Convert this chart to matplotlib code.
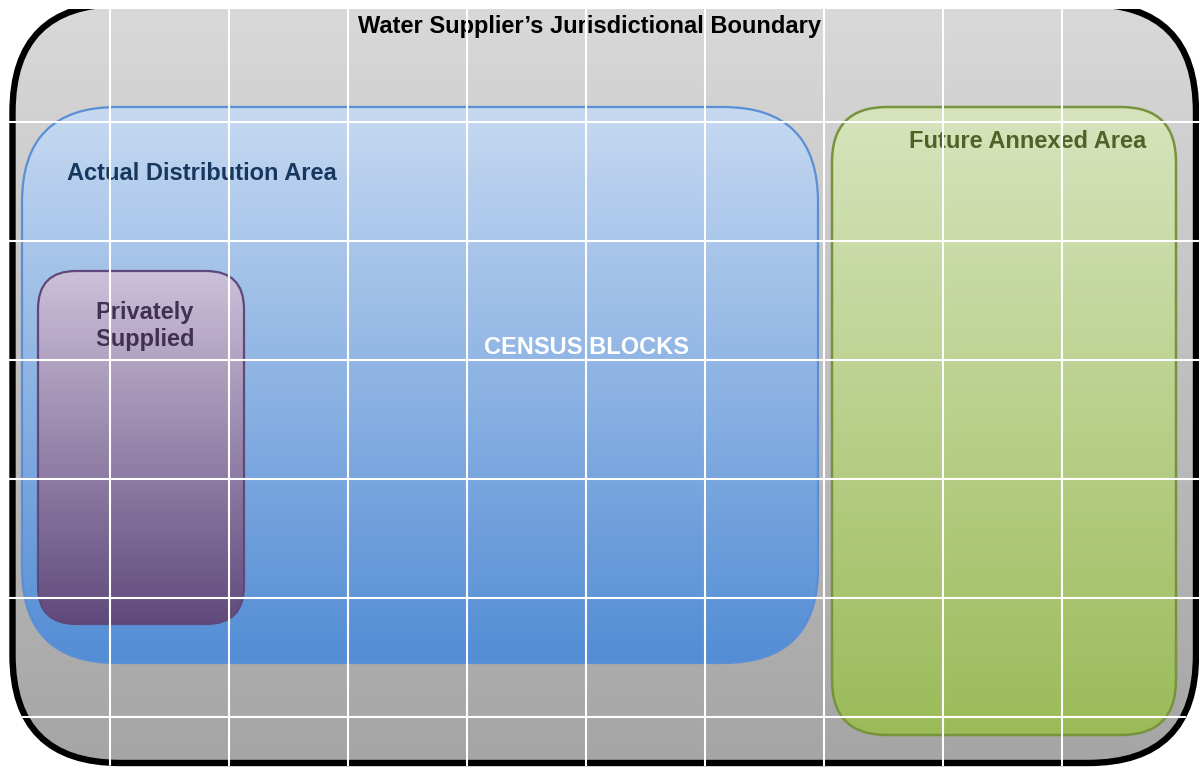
import numpy as np
import matplotlib
matplotlib.use("Agg")
import matplotlib.pyplot as plt
from matplotlib.patches import FancyBboxPatch, Rectangle
from matplotlib.colors import to_rgb

plt.rcParams["font.family"] = ["Liberation Sans", "DejaVu Sans"]

# diagram text
title = "Water Supplier\u2019s Jurisdictional Boundary"
area_labels = ["Actual Distribution Area", "Privately\nSupplied", "Future Annexed Area"]
center_label = "CENSUS BLOCKS"

W, H = 1199, 768
fig = plt.figure(figsize=(W / 100, H / 100), dpi=100)
ax = fig.add_axes([0, 0, 1, 1])
ax.set_xlim(0, W)
ax.set_ylim(H, 0)
ax.axis("off")


def gradient_box(x0, y0, x1, y1, radius, top, bottom, edge, lw, z):
    patch = FancyBboxPatch((x0, y0), x1 - x0, y1 - y0,
                           boxstyle=f"round,pad=0,rounding_size={radius}",
                           facecolor="none", edgecolor=edge, linewidth=lw, zorder=z + 0.5)
    ax.add_patch(patch)
    t = np.linspace(0, 1, 256)[:, None]
    c0, c1 = np.array(to_rgb(top)), np.array(to_rgb(bottom))
    img = (c0 * (1 - t) + c1 * t)[:, None, :]
    im = ax.imshow(img, extent=(x0, x1, y1, y0), origin="upper", aspect="auto",
                   interpolation="bilinear", zorder=z)
    clip = FancyBboxPatch((x0, y0), x1 - x0, y1 - y0,
                          boxstyle=f"round,pad=0,rounding_size={radius}",
                          transform=ax.transData, facecolor="none", edgecolor="none")
    im.set_clip_path(clip)
    return patch


gradient_box(12.5, 4, 1196, 763, 108, "#d9d9d9", "#a5a5a5", "black", 4.6, 1)
gradient_box(22, 107, 818, 663, 95, "#c6d9f1", "#538dd5", "#5a8fd6", 1.6, 3)
gradient_box(38, 271, 244, 624, 38, "#ccc0da", "#604a7b", "#5f497a", 1.6, 5)
gradient_box(832, 107, 1176, 735, 55, "#d7e4bd", "#9bbb59", "#77933c", 1.8, 5)

ax.text(589, 26, title, ha="center", va="center", fontsize=17, fontweight="bold",
        color="black", zorder=8)
ax.text(67, 174, area_labels[0], ha="left", va="center", fontsize=17, fontweight="bold",
        color="#17375e", zorder=8)
ax.text(145, 326, area_labels[1], ha="center", va="center", fontsize=17, fontweight="bold",
        color="#403151", linespacing=1.25, zorder=8)
ax.text(1028, 142, area_labels[2], ha="center", va="center", fontsize=17, fontweight="bold",
        color="#4f6228", zorder=8)
ax.text(586, 347, center_label, ha="center", va="center", fontsize=17, fontweight="bold",
        color="white", zorder=8)

# white grid over everything, clipped to the outer boundary
clip = FancyBboxPatch((9, 1), 1199 - 9, 766 - 1,
                      boxstyle="round,pad=0,rounding_size=112",
                      transform=ax.transData, facecolor="none", edgecolor="none")
for x in np.arange(110, 1100, 119):
    ln, = ax.plot([x, x], [0, H], color="white", lw=1.5, zorder=9)
    ln.set_clip_path(clip)
for y in np.arange(122, H, 119):
    ln, = ax.plot([0, W], [y, y], color="white", lw=1.5, zorder=9)
    ln.set_clip_path(clip)

ax.add_patch(Rectangle((0, 0), W, 8.5, facecolor="white", edgecolor="none", zorder=10))

fig.savefig("out.png", dpi=100)
